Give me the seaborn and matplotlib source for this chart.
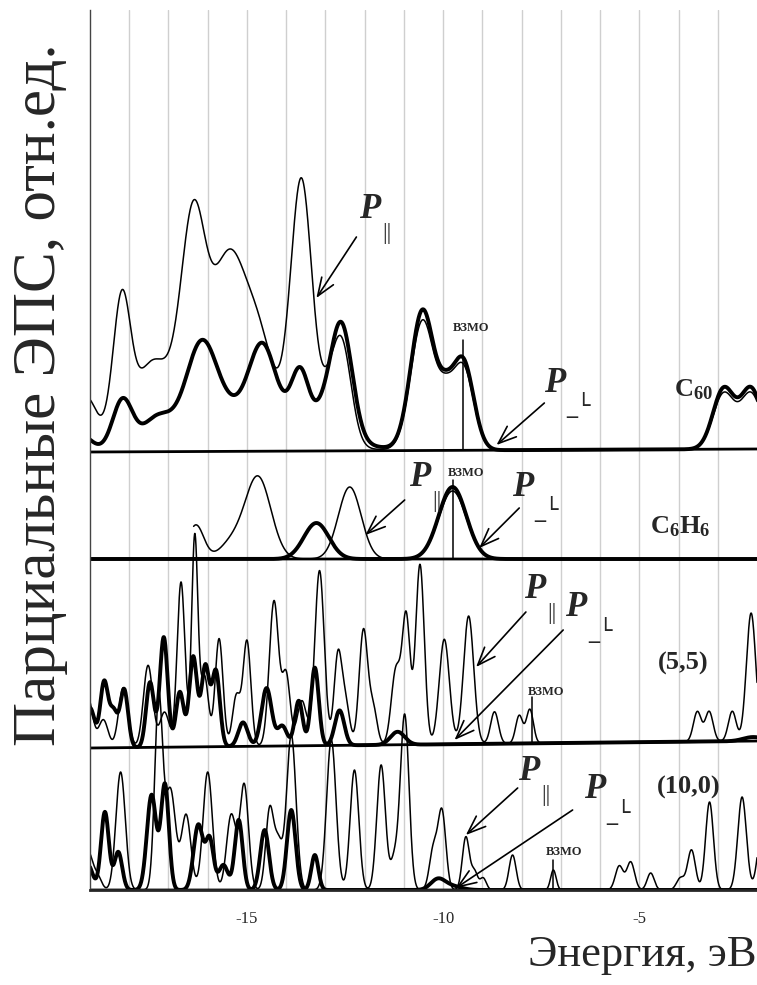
import numpy as np
import pandas as pd
import matplotlib.pyplot as plt
import seaborn as sns

# Энергетическая шкала, эВ
e_min, e_max = -19.0, -2.0

# Пики спектров: (энергия, эВ; высота, отн.ед.; ширина, эВ)
c60_par = [(-16.0, 80, 1.5), (-19.1, 45, 0.25), (-18.19, 130, 0.22), (-17.45, 40, 0.35),
           (-16.37, 165, 0.3), (-15.44, 120, 0.4), (-14.7, 60, 0.35), (-13.61, 250, 0.27),
           (-13.0, 25, 0.2), (-12.6, 105, 0.25), (-10.52, 130, 0.3), (-9.95, 35, 0.2),
           (-9.5, 84, 0.27), (-2.85, 55, 0.27), (-2.15, 55, 0.27)]
c60_perp = [(-15.0, 45, 1.5), (-19.2, 15, 0.25), (-18.17, 48, 0.25), (-17.3, 22, 0.35),
            (-16.16, 78, 0.38), (-14.61, 65, 0.32), (-13.64, 53, 0.22), (-13.1, 12, 0.2),
            (-12.6, 116, 0.28), (-10.52, 140, 0.3), (-9.95, 35, 0.2), (-9.5, 90, 0.27),
            (-2.85, 60, 0.27), (-2.15, 60, 0.27)]

c6h6_par = [(-16.3, 34, 0.2), (-15.4, 15, 0.3), (-14.72, 82, 0.33), (-12.38, 72, 0.29),
            (-9.76, 68, 0.35)]
c6h6_perp = [(-13.23, 36, 0.32), (-9.76, 72, 0.35)]

t55_par = [(-19.05, 50, 0.12), (-18.66, 28, 0.12), (-18.15, 60, 0.12), (-17.52, 82, 0.12),
           (-17.1, 35, 0.12), (-16.68, 165, 0.1), (-16.33, 210, 0.08), (-16.08, 70, 0.1),
           (-15.71, 108, 0.1), (-15.27, 50, 0.1), (-15.0, 105, 0.1), (-14.31, 145, 0.12),
           (-14.0, 70, 0.1), (-13.6, 45, 0.12), (-13.15, 175, 0.12), (-12.68, 90, 0.1),
           (-12.48, 40, 0.1), (-12.03, 115, 0.11), (-11.78, 35, 0.1), (-11.2, 75, 0.12),
           (-10.94, 125, 0.1), (-10.59, 180, 0.11), (-9.97, 105, 0.13), (-9.35, 128, 0.13),
           (-8.69, 32, 0.1), (-8.06, 28, 0.09), (-7.79, 34, 0.09), (-3.52, 30, 0.1),
           (-3.22, 30, 0.1), (-2.63, 30, 0.1), (-2.15, 128, 0.12)]
t55_perp = [(-19.0, 40, 0.12), (-18.64, 65, 0.1), (-18.4, 35, 0.1), (-18.13, 58, 0.1),
            (-17.47, 65, 0.1), (-17.12, 110, 0.1), (-16.71, 55, 0.1), (-16.37, 90, 0.1),
            (-16.06, 80, 0.1), (-15.79, 75, 0.1), (-15.1, 24, 0.12), (-14.5, 58, 0.13),
            (-14.1, 20, 0.12), (-13.68, 45, 0.1), (-13.27, 78, 0.1), (-12.64, 35, 0.12),
            (-11.16, 13, 0.18), (-2.1, 4, 0.25)]

t100_par = [(-19.05, 38, 0.12), (-18.8, 12, 0.1), (-18.22, 118, 0.12), (-17.25, 190, 0.1),
            (-16.95, 100, 0.13), (-16.55, 75, 0.12), (-16.0, 118, 0.12), (-15.4, 75, 0.12),
            (-15.07, 105, 0.11), (-14.42, 80, 0.1), (-14.2, 45, 0.1), (-13.87, 155, 0.12),
            (-12.85, 150, 0.12), (-12.26, 120, 0.11), (-11.58, 125, 0.11), (-11.24, 30, 0.1),
            (-10.98, 175, 0.11), (-10.25, 40, 0.1), (-10.03, 78, 0.1), (-9.42, 53, 0.09),
            (-9.2, 18, 0.08), (-8.98, 12, 0.08), (-8.23, 35, 0.09), (-7.19, 20, 0.07),
            (-5.51, 24, 0.1), (-5.22, 28, 0.1), (-4.71, 17, 0.09), (-3.95, 12, 0.1),
            (-3.67, 40, 0.1), (-3.21, 88, 0.1), (-2.38, 93, 0.11), (-1.85, 70, 0.12)]
t100_perp = [(-19.05, 25, 0.12), (-18.62, 78, 0.1), (-18.28, 38, 0.1), (-17.43, 95, 0.12),
             (-17.09, 105, 0.1), (-16.24, 65, 0.12), (-15.95, 50, 0.1), (-15.6, 25, 0.12),
             (-15.21, 70, 0.1), (-14.55, 60, 0.11), (-13.87, 80, 0.11), (-13.27, 35, 0.09),
             (-10.14, 10, 0.18), (-9.8, 4, 0.25)]

# ВЗМО для каждой системы, эВ
homo = {'C60': -9.5, 'C6H6': -9.76, '(5,5)': -7.74, '(10,0)': -7.19}

# вертикальный сдвиг панелей (слева, справа)
offsets = {'C60': (438, 441), 'C6H6': (331, 331), '(5,5)': (142, 149), '(10,0)': (0, 0)}

e = np.linspace(e_min, e_max, 3400)


def broaden(peaks):
    return sum(h * np.exp(-(e - c) ** 2 / (2 * w ** 2)) for c, h, w in peaks)


def base(name):
    y0, y1 = offsets[name]
    return y0 + (y1 - y0) * (e - e_min) / (e_max - e_min)


sns.set_style('white')
plt.rcParams['font.family'] = ['Liberation Serif', 'DejaVu Serif']
plt.rcParams['mathtext.fontset'] = 'custom'
plt.rcParams['mathtext.bf'] = 'Liberation Serif:bold'
plt.rcParams['mathtext.rm'] = 'Liberation Serif'

fig = plt.figure(figsize=(7.57, 9.85), dpi=100)
ax = fig.add_axes([90 / 757, 95 / 985, 667 / 757, 880 / 985])

curves = [('C60', c60_par, c60_perp), ('C6H6', c6h6_par, c6h6_perp),
          ('(5,5)', t55_par, t55_perp), ('(10,0)', t100_par, t100_perp)]

for name, par, perp in curves:
    b = base(name)
    # базовая линия
    start = -18.95 if name == 'C6H6' else e_min
    m0 = e >= start
    sns.lineplot(x=e[m0], y=b[m0], ax=ax, color='black', lw=2.0)
    y_par = b + broaden(par)
    m = e >= -16.36 if name == 'C6H6' else np.ones_like(e, bool)
    sns.lineplot(x=e[m], y=y_par[m], ax=ax, color='black', lw=1.1)
    sns.lineplot(x=e, y=b + broaden(perp), ax=ax, color='black', lw=2.8)

ax.set_xlim(e_min, e_max)
ax.set_ylim(0, 880)

# ВЗМО
homo_top = {'C60': 550, 'C6H6': 410, '(5,5)': 193, '(10,0)': 30}
homo_txt = {'C60': (-9.29, 562), 'C6H6': (-9.42, 417), '(5,5)': (-7.37, 198), '(10,0)': (-6.91, 38)}
for name, eh in homo.items():
    y0, y1 = offsets[name]
    yb = y0 + (y1 - y0) * (eh - e_min) / (e_max - e_min)
    ax.plot([eh, eh], [yb, homo_top[name]], color='black', lw=1.1)
    tx, ty = homo_txt[name]
    ax.text(tx, ty, 'ВЗМО', fontsize=9, fontweight='bold', ha='center', va='center')

# подписи систем
labels = {'C60': (r'$\mathbf{C_{60}}$', -3.62, 500), 'C6H6': (r'$\mathbf{C_6H_6}$', -3.95, 363),
          '(5,5)': ('(5,5)', -3.89, 227), '(10,0)': ('(10,0)', -3.73, 103)}
for name, (txt, tx, ty) in labels.items():
    ax.text(tx, ty, txt, fontsize=19, fontweight='bold', ha='center', va='center')

# стрелки P|| и P⊥
arrows = [
    ('par', (-11.88, 680), (-12.21, 653), (-13.23, 592)),
    ('perp', (-7.17, 507), (-7.42, 487), (-8.64, 445)),
    ('par', (-10.6, 413), (-10.98, 390), (-11.98, 355)),
    ('perp', (-7.98, 403), (-8.06, 382), (-9.08, 342)),
    ('par', (-7.68, 300), (-7.89, 278), (-9.16, 223)),
    ('perp', (-6.61, 282), (-6.94, 260), (-9.71, 150)),
    ('par', (-7.83, 119), (-8.1, 102), (-9.42, 55)),
    ('perp', (-6.15, 100), (-6.7, 80), (-9.67, 2)),
]
for kind, (px, py), (sx, sy), (tx, ty) in arrows:
    ax.text(px, py, 'P', fontsize=25, fontweight='bold', fontstyle='italic',
            ha='center', va='center')
    if kind == 'par':
        ax.text(px + 0.45, py - 24, '||', fontsize=17, ha='center', va='center')
    else:
        ax.text(px + 0.62, py - 22, '_└', fontsize=16, ha='center', va='center',
                family='DejaVu Sans')
    ax.annotate('', xy=(tx, ty), xytext=(sx, sy),
                arrowprops=dict(arrowstyle='->,head_length=1.3,head_width=0.5',
                                color='black', lw=1.2, shrinkA=0, shrinkB=0))

# сетка и оси
ax.set_xticks([-15, -10, -5])
ax.set_xticklabels(['-15', '-10', '-5'], fontsize=12)
ax.set_xticks(np.arange(-18, -2), minor=True)
ax.set_yticks([])
ax.grid(which='both', axis='x', color='#cfcfcf', lw=1.0)
ax.set_axisbelow(True)
ax.tick_params(axis='x', which='major', direction='out', length=7, width=1.5, pad=8)
ax.tick_params(axis='x', which='minor', direction='inout', length=5, width=1)
for s in ['top', 'right']:
    ax.spines[s].set_visible(False)
ax.spines['left'].set_color('#444444')
ax.spines['left'].set_linewidth(1.0)
ax.spines['bottom'].set_linewidth(2.0)

fig.text(757 / 757, 1 - 955 / 985, 'Энергия, эВ', fontsize=32, ha='right', va='center')
fig.text(40 / 757, 1 - 395 / 985, 'Парциальные ЭПС, отн.ед.', fontsize=44,
         rotation=90, ha='center', va='center')

fig.savefig('out.png', dpi=100)
